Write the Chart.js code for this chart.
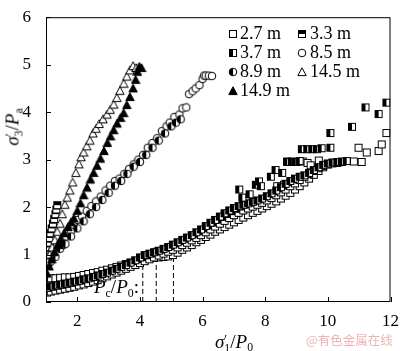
<!DOCTYPE html>
<html>
<head>
<meta charset="utf-8">
<script src="https://cdn.jsdelivr.net/npm/chart.js@4.4.1/dist/chart.umd.min.js"></script>
<style>
html,body{margin:0;padding:0;background:#fff;}
#wrap{position:relative;width:400px;height:351px;overflow:hidden;}
#chart{position:absolute;left:0;top:0;}
.lbl{position:absolute;font-family:"Liberation Serif",serif;color:#000;white-space:nowrap;line-height:1;}
.lbl sub{font-size:0.62em;vertical-align:-0.3em;line-height:0;}
.lbl sup{font-size:0.7em;vertical-align:0.35em;line-height:0;}
.ctr{transform:translate(-50%,-50%);}
#yTitle{transform:translate(-50%,-50%) rotate(-90deg);}
#mark{font-family:"Noto Sans CJK SC",sans-serif;color:#eeb4b4;font-size:12.5px;}
</style>
</head>
<body>
<div id="wrap">
<canvas id="chart" width="400" height="351"></canvas>
<div class="lbl ctr" id="xTitle" style="left:234px;top:341px;font-size:19px;"><i>σ</i><sup>′</sup><sub style="margin-left:-0.25em">1</sub>/<i>P</i><sub>0</sub></div>
<div class="lbl" id="yTitle" style="left:12px;top:127px;font-size:19px;"><i>σ</i><sup>′</sup><sub style="margin-left:-0.25em">3</sub>/<i>P</i><sub>a</sub></div>
<div class="lbl" id="pcLabel" style="left:94px;top:277px;font-size:19px;"><i>P</i><sub>c</sub>/<i>P</i><sub>0</sub>:</div>
<div class="lbl" id="mark" style="left:306px;top:334px;">@有色金属在线</div>
</div>
<script>
// axis ticks
const xTicks = [2, 4, 6, 8, 10, 12];
const yTicks = [0, 1, 2, 3, 4, 5, 6];

const seriesNames = ["2.7 m", "3.3 m", "3.7 m", "8.5 m", "8.9 m", "14.5 m", "14.9 m"];

// [x, y] pairs
const s27 = [
[1.03,0.47],[1.16,0.5],[1.3,0.5],[1.45,0.51],[1.6,0.52],[1.75,0.52],[1.9,0.53],[2.05,0.55],[2.2,0.57],[2.35,0.59],
[2.5,0.61],[2.65,0.63],[2.8,0.66],[2.95,0.68],[3.1,0.71],[3.25,0.74],[3.4,0.77],[3.55,0.8],[3.7,0.83],[3.85,0.86],
[4.0,0.88],[4.15,0.9],[4.3,0.92],[4.45,0.93],[4.6,0.94],[4.75,0.95],[4.9,0.96],[5.05,0.99],[5.2,1.04],[5.35,1.1],
[5.5,1.15],[5.65,1.2],[5.8,1.26],[5.95,1.31],[6.1,1.37],[6.25,1.42],[6.4,1.48],[6.55,1.53],[6.7,1.58],[6.85,1.63],
[7.0,1.68],[7.15,1.73],[7.3,1.78],[7.45,1.83],[7.6,1.88],[7.75,1.92],[7.9,1.97],[8.05,2.02],[8.2,2.07],[8.35,2.12],
[8.5,2.18],[8.65,2.24],[8.8,2.3],[8.95,2.37],[9.1,2.44],[9.25,2.52],[9.4,2.6],[9.55,2.68],[9.7,2.76],[9.85,2.84],
[10.0,2.9],[10.15,2.93],[10.3,2.94],[10.45,2.95],
[4.55,1.06],[4.8,1.1],[5.05,1.13],[8.38,2.44],[8.6,2.47],[8.7,2.96],[8.85,2.96],[9.0,2.95],[9.2,2.96],[9.35,2.93],
[9.45,2.88],[9.71,2.98],[10.83,2.96],[10.98,3.25],[11.08,2.95],[11.24,3.15],[11.62,3.18],[11.72,3.32],[11.87,3.56]
];
const s33 = [
[1.02,1.05],[1.05,1.15],[1.08,1.25],[1.11,1.35],[1.14,1.45],[1.18,1.55],[1.22,1.65],[1.26,1.75],[1.3,1.85],[1.33,1.95],[1.36,2.04],
[1.03,0.2],[1.15,0.22],[1.3,0.24],[1.45,0.26],[1.6,0.28],[1.75,0.3],[1.9,0.32],[2.05,0.35],[2.2,0.37],[2.35,0.4],
[2.5,0.43],[2.65,0.46],[2.8,0.5],[2.95,0.54],[3.1,0.58],[3.25,0.62],[3.4,0.66],[3.55,0.7],[3.7,0.74],[3.85,0.78],
[4.0,0.82],[4.15,0.86],[4.3,0.9],[4.45,0.94],[4.6,0.98],[4.75,1.02],[4.9,1.06],[5.05,1.1],[5.2,1.15],[5.35,1.2],
[5.5,1.25],[5.65,1.3],[5.8,1.35],[5.95,1.41],[6.1,1.47],[6.25,1.53],[6.4,1.59],[6.55,1.65],[6.7,1.71],[6.85,1.77],
[7.0,1.83],[7.15,1.88],[7.3,1.93],[7.45,1.97],[7.6,2.01],[7.75,2.05],[7.9,2.09],[8.05,2.14],[8.2,2.19],[8.35,2.25],
[8.5,2.31],[8.65,2.37],[8.8,2.44],[8.95,2.5],[9.1,2.57],[9.25,2.64],[9.4,2.7],[9.55,2.76],[9.7,2.82],[9.85,2.87],
[10.0,2.9],[10.15,2.92],[10.3,2.93]
];
const s37 = [
[1.03,0.3],[1.15,0.33],[1.3,0.35],[1.45,0.37],[1.6,0.39],[1.75,0.41],[1.9,0.43],[2.05,0.45],[2.2,0.48],[2.35,0.5],
[2.5,0.53],[2.65,0.56],[2.8,0.59],[2.95,0.62],[3.1,0.66],[3.25,0.7],[3.4,0.74],[3.55,0.78],[3.7,0.83],[3.85,0.88],
[4.0,0.94],[4.15,0.99],[4.3,1.02],[4.45,1.05],[4.6,1.08],[4.75,1.12],[4.9,1.16],[5.05,1.21],[5.2,1.26],[5.35,1.31],
[5.5,1.36],[5.65,1.41],[5.8,1.47],[5.95,1.53],[6.1,1.6],[6.25,1.67],[6.4,1.73],[6.55,1.8],[6.7,1.87],[6.85,1.93],
[7.0,1.98],[7.15,2.02],[7.3,2.05],[7.45,2.08],[7.6,2.11],[7.75,2.14],[7.9,2.18],[8.05,2.23],[8.2,2.29],[8.35,2.35],
[8.5,2.42],[8.65,2.49],[8.8,2.55],[8.95,2.6],[9.1,2.64],[9.25,2.67],[9.4,2.72],[9.55,2.78],[9.7,2.84],[9.85,2.89],
[10.0,2.92],[10.15,2.94],[10.3,2.95],[10.45,2.96],[10.6,2.97],
[7.17,2.37],[7.27,2.2],[7.5,2.27],[7.7,2.47],[7.8,2.54],[7.86,2.44],[8.18,2.64],[8.33,2.78],[8.54,2.72],[8.7,2.95],
[8.85,2.95],[8.97,2.95],[9.1,2.97],[9.17,3.22],[9.34,3.22],[9.5,3.22],[9.65,3.22],[9.8,3.24],[10.08,3.25],[10.08,3.56],
[10.77,3.69],[11.2,4.1],[11.62,3.96],[11.87,4.2]
];
const s85 = [
[1.05,0.95],[1.2,1.08],[1.35,1.18],[1.5,1.28],[1.65,1.38],[1.8,1.5],[1.9,1.62],[2.0,1.73],[2.15,1.8],[2.3,1.92],
[2.45,2.02],[2.6,2.12],[2.75,2.22],[2.9,2.35],[3.05,2.45],[3.2,2.55],[3.35,2.6],[3.5,2.7],[3.65,2.8],[3.8,2.9],
[3.95,3.0],[4.1,3.1],[4.25,3.25],[4.4,3.35],[4.55,3.45],[4.7,3.6],[4.85,3.7],[4.95,3.78],[5.1,3.9],[5.26,3.95],
[5.36,4.08],[5.48,4.1],[5.57,4.38],[5.68,4.44],[5.78,4.5],[5.9,4.57],[6.0,4.7],[6.05,4.77],[6.1,4.77],[6.2,4.77],[6.3,4.76]
];
const s89 = [
[1.05,0.78],[1.15,0.85],[1.3,0.95],[1.45,1.12],[1.55,1.2],[1.62,1.22],[1.8,1.38],[2.0,1.55],[2.2,1.7],[2.4,1.85],
[2.6,2.0],[2.8,2.15],[3.0,2.3],[3.2,2.45],[3.4,2.55],[3.6,2.7],[3.8,2.85],[4.0,2.95],[4.2,3.1],[4.4,3.25],
[4.6,3.4],[4.8,3.55],[5.0,3.7],[5.15,3.78],[5.3,3.85]
];
const s145 = [
[1.05,0.85],[1.12,1.0],[1.2,1.15],[1.28,1.3],[1.36,1.48],[1.45,1.65],[1.52,1.85],[1.6,2.05],[1.68,2.2],[1.76,2.35],
[1.85,2.52],[1.95,2.72],[2.05,2.9],[2.12,3.05],[2.2,3.15],[2.3,3.28],[2.4,3.4],[2.5,3.55],[2.6,3.65],[2.7,3.75],
[2.82,3.85],[2.95,3.95],[3.05,4.05],[3.16,4.16],[3.26,4.3],[3.36,4.45],[3.48,4.6],[3.58,4.75],[3.68,4.88],[3.78,4.97],[3.88,4.93]
];
const s149 = [
[1.03,0.6],[1.1,0.75],[1.18,0.9],[1.27,1.05],[1.37,1.2],[1.47,1.32],[1.58,1.45],[1.7,1.58],[1.8,1.68],[1.89,1.76],
[2.0,1.92],[2.1,2.08],[2.2,2.25],[2.31,2.41],[2.42,2.58],[2.52,2.72],[2.63,2.87],[2.74,3.02],[2.85,3.18],[2.96,3.35],
[3.06,3.49],[3.16,3.62],[3.27,3.76],[3.38,3.88],[3.48,3.98],[3.58,4.15],[3.68,4.32],[3.78,4.5],[3.86,4.68],[3.92,4.85],[3.98,4.96],[4.05,4.93]
];

// Pc/P0 marks
const pcX = [4.09, 4.52, 5.07];
const pcTop = [0.85, 0.89, 1.02];

function makeMarker(kind){
const c = document.createElement("canvas");
c.width = 10; c.height = 10;
const g = c.getContext("2d");
g.lineWidth = 1;
g.strokeStyle = "#000";
g.fillStyle = "#fff";
if(kind.startsWith("sq")){
g.fillRect(1.5,1.5,7,7);
g.fillStyle = "#000";
if(kind==="sqTop") g.fillRect(1.5,1.5,7,3.5);
if(kind==="sqLeft") g.fillRect(1.5,1.5,3.5,7);
g.strokeRect(1.5,1.5,7,7);
}
else if(kind.startsWith("ci")){
g.beginPath(); g.arc(5,5,3.8,0,Math.PI*2); g.fill();
if(kind==="ciLeft"){
g.fillStyle="#000";
g.beginPath(); g.arc(5,5,3.8,Math.PI/2,Math.PI*1.5); g.closePath(); g.fill();
}
g.beginPath(); g.arc(5,5,3.8,0,Math.PI*2); g.stroke();
}
else{
g.beginPath(); g.moveTo(5,0.8); g.lineTo(9.2,8.6); g.lineTo(0.8,8.6); g.closePath();
if(kind==="triFill") g.fillStyle="#000";
g.fill(); g.stroke();
}
return c;
}

const markers = [makeMarker("sqOpen"), makeMarker("sqTop"), makeMarker("sqLeft"),
makeMarker("ciOpen"), makeMarker("ciLeft"), makeMarker("triOpen"), makeMarker("triFill")];
const allSeries = [s27, s33, s37, s85, s89, s145, s149];

const datasets = [];

pcX.forEach((x,i) => {
datasets.push({
type:"line",
data:[{x:x,y:0},{x:x,y:pcTop[i]}],
borderColor:"#000",
borderWidth:1,
borderDash:[5,3],
pointRadius:0,
order:10
});
});

allSeries.forEach((s,i) => {
datasets.push({
type:"scatter",
label:seriesNames[i],
data:s.map(p => ({x:p[0],y:p[1]})),
pointStyle:markers[i],
order:7-i
});
});

const frame = {
id:"frame",
afterDatasetsDraw(chart){
const {ctx, chartArea:a, scales} = chart;
ctx.save();
ctx.strokeStyle="#000";
ctx.lineWidth=1;
ctx.strokeRect(a.left+0.5,a.top+0.5,a.right-a.left-1,a.bottom-a.top-1);
ctx.beginPath();
xTicks.forEach(v => {
const px = Math.round(scales.x.getPixelForValue(v))+0.5;
ctx.moveTo(px,a.bottom); ctx.lineTo(px,a.bottom-5);
});
yTicks.forEach(v => {
const py = Math.round(scales.y.getPixelForValue(v))+0.5;
ctx.moveTo(a.left,py); ctx.lineTo(a.left+5,py);
});
ctx.stroke();
ctx.restore();
}
};

const legendBox = {
id:"legendBox",
afterDraw(chart){
const ctx = chart.ctx;
const rows = [33.5,52.5,71.5,90.5];
const cols = [[233,240],[302,310]];
ctx.save();
ctx.font = "18px 'Liberation Serif'";
ctx.fillStyle = "#000";
ctx.textBaseline = "middle";
seriesNames.forEach((name,i) => {
const r = rows[Math.floor(i/2)];
const c = cols[i%2];
const m = markers[i];
ctx.drawImage(m, Math.round(c[0]-m.width/2), Math.round(r-m.height/2));
ctx.fillText(name, c[1], r+1);
});
ctx.restore();
}
};

new Chart(document.getElementById("chart"),{
data:{datasets:datasets},
options:{
responsive:false,
animation:false,
devicePixelRatio:1,
layout:{padding:{top:6,right:8,left:0,bottom:0}},
plugins:{legend:{display:false},tooltip:{enabled:false}},
scales:{
x:{
type:"linear",
min:1,max:12,
afterBuildTicks(s){ s.ticks = xTicks.map(v => ({value:v})); },
afterFit(s){ s.height = 49; },
grid:{display:false},
border:{display:false},
ticks:{color:"#000",font:{family:"Liberation Serif",size:17},padding:1,maxRotation:0}
},
y:{
type:"linear",
min:0,max:6,
afterBuildTicks(s){ s.ticks = yTicks.map(v => ({value:v})); },
afterFit(s){ s.width = 46; },
grid:{display:false},
border:{display:false},
ticks:{color:"#000",font:{family:"Liberation Serif",size:17},padding:7}
}
}
},
plugins:[frame,legendBox]
});
</script>
</body>
</html>
